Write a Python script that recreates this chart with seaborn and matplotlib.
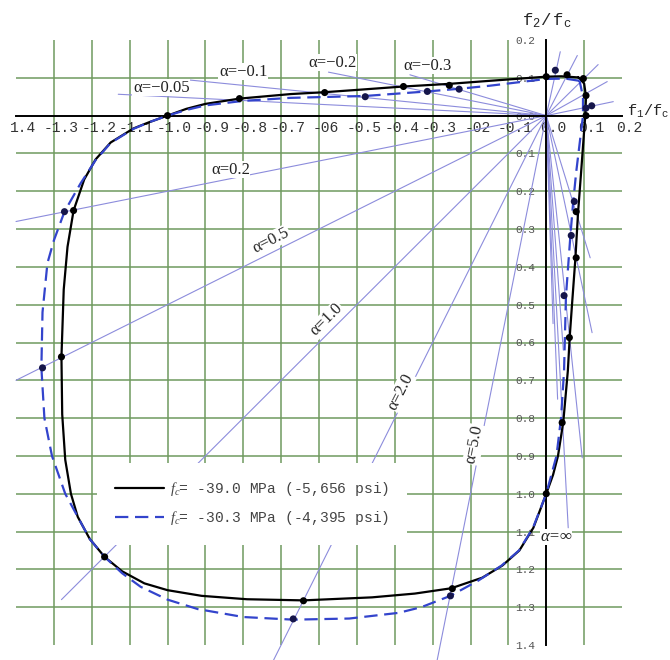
import numpy as np
import pandas as pd
import matplotlib
matplotlib.use("Agg")
import matplotlib.pyplot as plt
import matplotlib.transforms as mtransforms
import seaborn as sns

# ------------------------
# Enveloppe fc = -39.0 MPa (trait plein)
# ------------------------
solid_f1 = [0.085, 0.04, 0.0, -0.15, -0.256, -0.377, -0.5, -0.585, -0.675, -0.81, -0.9, -0.95,
            -1.0, -1.05, -1.09, -1.15, -1.19, -1.22, -1.248, -1.264, -1.274, -1.28, -1.278, -1.27,
            -1.255, -1.237, -1.205, -1.166, -1.12, -1.061, -1.0, -0.91, -0.79, -0.641, -0.46,
            -0.347, -0.251, -0.169, -0.116, -0.071, -0.034, 0.0, 0.018, 0.031, 0.045, 0.057,
            0.062, 0.068, 0.077, 0.084, 0.092, 0.103, 0.105, 0.1, 0.085]
solid_f2 = [0.101, 0.104, 0.103, 0.092, 0.084, 0.077, 0.068, 0.062, 0.057, 0.045, 0.031, 0.018,
            0.0, -0.018, -0.034, -0.071, -0.116, -0.169, -0.251, -0.347, -0.46, -0.638, -0.79, -0.91,
            -1.0, -1.061, -1.12, -1.167, -1.205, -1.237, -1.255, -1.27, -1.279, -1.282, -1.274,
            -1.264, -1.25, -1.222, -1.19, -1.15, -1.09, -1.0, -0.95, -0.9, -0.81, -0.675,
            -0.585, -0.5, -0.377, -0.256, -0.15, 0.0, 0.05, 0.085, 0.101]

# ------------------------
# Enveloppe fc = -30.3 MPa (tirets)
# ------------------------
dashed_f1 = [0.088, 0.05, 0.0, -0.15, -0.23, -0.314, -0.478, -0.675, -0.8, -0.9, -0.95, -1.0,
             -1.05, -1.09, -1.15, -1.19, -1.23, -1.272, -1.3, -1.317, -1.33, -1.333, -1.325,
             -1.305, -1.27, -1.237, -1.205, -1.166, -1.12, -1.071, -1.0, -0.92, -0.8, -0.668,
             -0.52, -0.39, -0.33, -0.253, -0.18, -0.118, -0.072, -0.035, 0.0, 0.027, 0.039,
             0.047, 0.052, 0.064, 0.071, 0.079, 0.097, 0.097, 0.088]
dashed_f2 = [0.092, 0.098, 0.097, 0.079, 0.071, 0.064, 0.052, 0.047, 0.039, 0.027, 0.015, 0.0,
             -0.018, -0.035, -0.072, -0.118, -0.18, -0.254, -0.33, -0.39, -0.52, -0.667, -0.8,
             -0.9, -1.0, -1.061, -1.12, -1.167, -1.21, -1.246, -1.28, -1.305, -1.326, -1.333,
             -1.33, -1.315, -1.3, -1.27, -1.23, -1.19, -1.15, -1.09, -1.0, -0.9, -0.8,
             -0.675, -0.478, -0.314, -0.23, -0.15, 0.0, 0.05, 0.092]

# ------------------------
# Points d'essais
# ------------------------
pts_solid_f1 = [-1.0, -0.81, -0.585, -0.377, -0.256, -1.248, -1.28, -1.166, -0.641, -0.248,
                0.0, 0.042, 0.061, 0.079, 0.079, 0.0, 0.055, 0.098, 0.105, 0.105]
pts_solid_f2 = [0.0, 0.045, 0.061, 0.077, 0.08, -0.251, -0.638, -1.167, -1.283, -1.251,
                -1.0, -0.812, -0.587, -0.376, -0.254, 0.103, 0.108, 0.098, 0.053, 0.0]
pts_dashed_f1 = [-0.478, -0.314, -0.23, -1.272, -1.33, -0.668, -0.253, 0.047, 0.066, 0.074,
                 0.024, 0.12, 0.105]
pts_dashed_f2 = [0.05, 0.064, 0.07, -0.254, -0.667, -1.331, -1.27, -0.476, -0.317, -0.227,
                 0.12, 0.026, 0.02]

# ------------------------
# Rayons alpha = f2 / f1
# ------------------------
ray_alpha = [-0.05, -0.1, -0.2, -0.3, 0.2, 0.5, 1.0, 2.0, 5.0]
ray_end_f1 = [-1.13, -0.94, -0.575, -0.36, -1.4, -1.4, -1.28, -0.72, -0.288]
ray_labels = ["α=−0.05", "α=−0.1", "α=−0.2", "α=−0.3", "α=0.2", "α=0.5", "α=1.0", "α=2.0", "α=5.0"]
label_xy = [(-1.016, 0.074), (-0.80, 0.116), (-0.565, 0.14), (-0.314, 0.132), (-0.834, -0.143),
            (-0.726, -0.33), (-0.58, -0.54), (-0.385, -0.73), (-0.19, -0.87)]
label_rot = [0, 0, 0, 0, 0, 27, 45, 63, 79]

# rayons sans étiquette (côté traction)
fan_f1 = [0.037, 0.082, 0.137, 0.161, 0.177, 0.116, 0.121, 0.095, 0.058, 0.03, 0.045, 0.018]
fan_f2 = [0.169, 0.159, 0.135, 0.09, 0.037, -0.376, -0.574, -0.905, -1.09, -0.75, -0.62, -0.55]

# graduations
x_ticks = np.round(np.arange(-1.4, 0.21, 0.1), 1)
x_ticklabels = ["1.4", "-1.3", "-1.2", "-1.1", "-1.0", "-0.9", "-0.8", "-0.7", "-06", "-0.5",
                "-0.4", "-0.3", "-02", "-0.1", "0.0", "0.1", "0.2"]
y_ticks = np.round(np.arange(0.2, -1.41, -0.1), 1)
y_ticklabels = ["0.2", "0.1", "0.0", "0.1", "0.2", "0.3", "0.4", "0.5", "0.6", "0.7", "0.8",
                "0.9", "1.0", "1.1", "1.2", "1.3", "1.4"]
grid_x = [v for v in x_ticks if -1.4 < v < 0.2 and v != 0.0]
grid_y = [v for v in y_ticks if -1.4 < v < 0.2 and v != 0.0]

legend_labels = [r"$f_c$= -39.0 MPa (-5,656 psi)", r"$f_c$= -30.3 MPa (-4,395 psi)"]

# ------------------------
# Style
# ------------------------
sns.set_style("white")
plt.rcParams["font.family"] = ["Liberation Mono", "DejaVu Sans"]
plt.rcParams["mathtext.fontset"] = "custom"
plt.rcParams["mathtext.rm"] = "Liberation Mono"
plt.rcParams["mathtext.it"] = "Liberation Serif:italic"

grid_col = "#6f9a5f"
ray_col = "#8c8cdc"
blue = "#3344cc"

fig = plt.figure(figsize=(6.7, 6.6), dpi=100)
ax = fig.add_axes([16 / 670, 15 / 660, 606 / 670, 605 / 660])
ax.set_xlim(-1.4, 0.2)
ax.set_ylim(-1.4, 0.2)

# grille verte
for v in grid_x:
    ax.axvline(v, color=grid_col, lw=1.1, zorder=0.5)
for v in grid_y:
    ax.axhline(v, color=grid_col, lw=1.1, zorder=0.5)

# rayons
for a, x_end in zip(ray_alpha, ray_end_f1):
    ax.plot([0, x_end], [0, a * x_end], color=ray_col, lw=0.8, zorder=1, clip_on=False)
for xe, ye in zip(fan_f1, fan_f2):
    ax.plot([0, xe], [0, ye], color=ray_col, lw=0.8, zorder=1)

# enveloppes
sns.lineplot(x=solid_f1, y=solid_f2, sort=False, estimator=None, color="black", lw=1.6,
             ax=ax, zorder=3, label=legend_labels[0])
sns.lineplot(x=dashed_f1, y=dashed_f2, sort=False, estimator=None, color=blue, lw=1.6,
             linestyle=(0, (6, 3)), ax=ax, zorder=3, label=legend_labels[1])

sns.scatterplot(x=pts_solid_f1, y=pts_solid_f2, color="black", s=26, edgecolor="none",
                ax=ax, zorder=4, legend=False)
sns.scatterplot(x=pts_dashed_f1, y=pts_dashed_f2, color="#15154a", s=26, edgecolor="none",
                ax=ax, zorder=4, legend=False)

# étiquettes alpha
for txt, (lx, ly), rot in zip(ray_labels, label_xy, label_rot):
    ax.text(lx, ly, txt, family=["Liberation Serif", "DejaVu Serif"], fontsize=12,
            color="#222222", rotation=rot, ha="center", va="center", zorder=5,
            bbox=dict(facecolor="white", edgecolor="none", pad=0.5))
ax.text(0.026, -1.114, "α=∞", family=["Liberation Serif", "DejaVu Serif"], style="italic",
        fontsize=12, color="#222222", ha="center", va="center", zorder=5,
        bbox=dict(facecolor="white", edgecolor="none", pad=0.3))

# axes en croix
for s in ["top", "right"]:
    ax.spines[s].set_visible(False)
ax.spines["left"].set_position(("data", 0))
ax.spines["bottom"].set_position(("data", 0))
for s in ["left", "bottom"]:
    ax.spines[s].set_linewidth(1.4)
    ax.spines[s].set_color("black")
    ax.spines[s].set_zorder(2.5)

ax.set_xticks(x_ticks)
ax.set_xticklabels(x_ticklabels)
ax.set_xticks([-1.4, 0.2], minor=True)
ax.tick_params(axis="x", which="major", length=0, pad=4, labelsize=10.5, labelcolor="#333333")
ax.tick_params(axis="x", which="minor", length=6, width=1.2, direction="out", color="black")
ax.set_yticks(y_ticks)
ax.set_yticklabels(y_ticklabels)
ax.tick_params(axis="y", which="major", length=7, width=1.1, direction="out", pad=1,
               labelsize=8, labelcolor="#555555", color="black")
offset = mtransforms.ScaledTranslation(5 / 72, 0, fig.dpi_scale_trans)
for lab in ax.get_xticklabels():
    lab.set_transform(lab.get_transform() + offset)

# titres des axes
ax.text(0.003, 0.25, r"$\mathrm{f_2/\,f_c}$", fontsize=12.5, ha="center", va="center",
        clip_on=False)
ax.text(0.214, 0.012, r"$\mathrm{f_1/f_c}$", fontsize=11, ha="left", va="center",
        clip_on=False)

leg = ax.legend(loc="upper left", bbox_to_anchor=(0.134, 0.301), frameon=True,
                facecolor="white", edgecolor="none", framealpha=1, fancybox=False,
                borderpad=1.2, borderaxespad=0, handlelength=3.4, handletextpad=0.4,
                labelspacing=0.75, prop={"family": "Liberation Mono", "size": 10.5})
leg.set_zorder(6)
for t in leg.get_texts():
    t.set_color("#444444")

fig.savefig("out.png", dpi=100)
